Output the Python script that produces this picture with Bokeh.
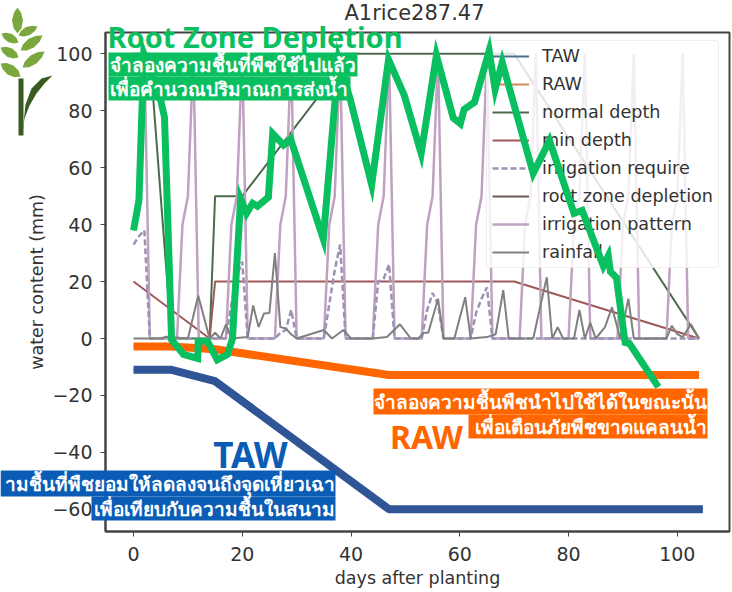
from bokeh.plotting import figure
from bokeh.embed import file_html
from bokeh.resources import INLINE
from bokeh.models import Range1d, FixedTicker, Legend, LegendItem, Label, BoxAnnotation, PolyAnnotation

title = "A1rice287.47"
x_ticks = [0, 20, 40, 60, 80, 100]
y_ticks = [-60, -40, -20, 0, 20, 40, 60, 80, 100]

taw_x = [0, 7, 15, 47, 104.7]
taw_y = [-11, -11, -15, -60, -60]
raw_x = [0, 7, 15, 47, 104]
raw_y = [-2.8, -2.8, -3.8, -12.8, -12.8]
normal_x = [0, 3, 7, 14, 15, 20, 40, 70, 104]
normal_y = [100, 100, 0, 0, 50, 50, 100, 100, 0]
min_x = [0, 14, 15, 70, 104]
min_y = [20, 0, 20, 20, 0]
pattern_x = [0, 1, 2, 3, 8, 9, 10, 11, 12, 17, 18, 19, 20, 21, 26, 27, 28, 29, 30, 35, 36, 37, 38, 39,
             44, 45, 46, 47, 48, 53, 54, 55, 56, 57, 62, 63, 64, 65, 66, 71, 72, 73, 74, 75,
             80, 81, 82, 83, 84, 89, 90, 91, 92, 93, 98, 99, 100, 101, 102, 104]
pattern_y = [40, 50, 100, 0, 0, 40, 50, 100, 0, 0, 40, 50, 100, 0, 0, 40, 50, 100, 0, 0, 40, 50, 100, 0,
             0, 40, 50, 100, 0, 0, 40, 50, 100, 0, 0, 40, 50, 100, 0, 0, 40, 50, 100, 0,
             0, 40, 50, 100, 0, 0, 40, 50, 100, 0, 0, 40, 50, 100, 0, 0]
require_x = [0, 1, 2, 3, 17, 18, 19, 20, 21, 26, 27, 28, 29, 30, 35, 36, 37, 38, 39,
             44, 45, 46, 47, 48, 53, 54, 55, 56, 57, 62, 63, 64, 65, 66, 104]
require_y = [33, 36, 38, 0, 0, 12, 22, 27, 0, 0, 2, 3, 10, 0, 0, 12, 24, 33, 0,
             0, 20, 21, 26, 0, 0, 10, 16, 12, 0, 0, 9, 14, 18, 0, 0]
rain_x = [0, 5, 6, 10, 11.9, 14, 15, 16, 17, 18, 21, 22, 23, 24, 25, 26, 27, 28, 29, 30, 35, 36.5, 38.6, 40,
          44, 46.6, 49, 51, 52.4, 53.3, 54.2, 56, 57, 59, 61, 62, 65, 66.6, 68, 69, 73.5, 76, 77, 78, 79,
          81, 82, 83, 84, 85, 86.7, 88, 89.5, 91, 92, 98, 99, 100, 101, 102.5, 104]
rain_y = [0, 0, 0.6, 0, 15, 0, 2, 0, 5, 0, 0.5, 11.6, 4, 8.8, 9, 30, 4, 3.5, 1.5, 0, 3, 0, 3, 0,
          0, 0.5, 5, 0, 0, 2, 2, 14, 0, 0, 14.5, 0, 0.5, 1.5, 17, 0, 0, 21.5, 0, 4, 0,
          0, 10, 0, 5.5, 0, 4, 11, 0, 14, 0, 0, 4.5, 1.5, 0.5, 5, 0]
depletion_x = [0, 1, 1.9, 5, 5.7, 7, 9.2, 11.8, 11.9, 13.6, 15.4, 17.3, 18.2, 19.7, 20.8, 21.9, 22.8, 24.8,
               25.6, 27.6, 28.9, 34.9, 37.7, 39.9, 43.8, 46.9, 49.8, 52.9, 55.7, 58.8, 60.1, 60.8, 62.7,
               65.4, 66.5, 67.8, 73.5, 76.5, 81, 82.5, 86.4, 87.3, 87.7, 88.8, 90.4, 91.2, 96.5]
depletion_y = [38, 48.5, 100, 83.7, 77.7, -0.4, -5.6, -7, -1, -1, -7.5, -5.6, 0, 49, 44, 47.5, 46.5, 49.6,
               72, 68, 70, 35, 98, 83.7, 54, 98, 85.4, 65, 99.5, 77.5, 75.5, 80.5, 83,
               101, 87.5, 97, 58, 69.5, 44, 45, 25.5, 29, 23.5, 21.4, -1.4, -1.8, -17]

GREEN, ORANGE, BLUE = "#0abf60", "#ff6600", "#0b5cb5"
L, R, T, B = 105, 729, 32, 531
x0, x1, y0, y1 = -5.15, 109.6, -67.8, 107.5

def X(px):
    return x0 + (px - L) * (x1 - x0) / (R - L)

def Y(py):
    return y1 - (py - T) * (y1 - y0) / (B - T)

pinned = {"position": "absolute", "left": "0px", "top": "0px"}

# base chart: axes, thin series, translucent legend
p = figure(width=732, height=592, output_backend="svg", toolbar_location=None,
           x_range=Range1d(x0, x1), y_range=Range1d(y0, y1),
           min_border_left=L, min_border_right=732 - R, min_border_top=T, min_border_bottom=592 - B,
           x_axis_label="days after planting", y_axis_label="water content (mm)")
p.styles = pinned
p.grid.visible = False
p.outline_line_color = "#444444"
p.outline_line_width = 2
for ax, ticks in ((p.xaxis[0], x_ticks), (p.yaxis[0], y_ticks)):
    ax.ticker = FixedTicker(ticks=ticks)
    ax.major_label_overrides = {t: str(t).replace("-", "\u2212") for t in ticks}
    ax.major_tick_in = 0
    ax.major_tick_out = 5
    ax.minor_tick_line_color = None
    ax.axis_line_color = "#444444"
    ax.axis_line_width = 2
    ax.major_tick_line_color = "#444444"
    ax.major_label_text_font = "DejaVu Sans"
    ax.major_label_text_font_size = "19px"
    ax.major_label_text_color = "#333333"
    ax.axis_label_text_font = "DejaVu Sans"
    ax.axis_label_text_font_size = "17.5px"
    ax.axis_label_text_font_style = "normal"
    ax.axis_label_text_color = "#333333"
p.xaxis[0].major_label_standoff = 10
p.yaxis[0].major_label_standoff = 8
p.xaxis[0].axis_label_standoff = 4
p.yaxis[0].axis_label_standoff = 2

r_taw = p.line(taw_x, taw_y, line_color="#4c6f8f", line_width=2)
r_raw = p.line(raw_x, raw_y, line_color="#d08a5b", line_width=2)
r_normal = p.line(normal_x, normal_y, line_color="#4c6b4c", line_width=2)
r_min = p.line(min_x, min_y, line_color="#a05858", line_width=2)
r_pattern = p.line(pattern_x, pattern_y, line_color="#bfa2c0", line_width=2.5)
r_req = p.line(require_x, require_y, line_color="#9b92b5", line_width=2.5, line_dash="6 3")
r_dep = p.line(depletion_x, depletion_y, line_color="#6b5a55", line_width=2)
r_rain = p.line(rain_x, rain_y, line_color="#808080", line_width=2)

legend = Legend(items=[
    LegendItem(label="TAW", renderers=[r_taw]),
    LegendItem(label="RAW", renderers=[r_raw]),
    LegendItem(label="normal depth", renderers=[r_normal]),
    LegendItem(label="min depth", renderers=[r_min]),
    LegendItem(label="irrigation require", renderers=[r_req]),
    LegendItem(label="root zone depletion", renderers=[r_dep]),
    LegendItem(label="irrigation pattern", renderers=[r_pattern]),
    LegendItem(label="rainfall", renderers=[r_rain]),
], location=(381, 263), margin=0, padding=5, spacing=8, glyph_width=37, glyph_height=20, label_height=20,
    label_standoff=13, label_text_font="DejaVu Sans", label_text_font_size="17.6px", label_text_color="#333333",
    background_fill_alpha=0.82, border_line_color="#dddddd", border_radius=4)
p.add_layout(legend)

# transparent sheet over the whole page: thick bands, green trace, captions, emblem
q = figure(width=732, height=592, output_backend="svg", toolbar_location=None,
           x_range=Range1d(X(0), X(732)), y_range=Range1d(Y(592), Y(0)),
           x_axis_type=None, y_axis_type=None, min_border=0,
           background_fill_alpha=0, border_fill_alpha=0, outline_line_color=None)
q.styles = pinned
q.grid.visible = False

q.line(taw_x, taw_y, line_color="#2f5597", line_width=8)
q.line(raw_x, raw_y, line_color=ORANGE, line_width=8)
q.line(depletion_x, depletion_y, line_color=GREEN, line_width=7, line_join="miter")

def band(left, right, top, bottom, color):
    q.add_layout(BoxAnnotation(left=X(left), right=X(right), top=Y(top), bottom=Y(bottom),
                               fill_color=color, fill_alpha=1, line_color=None))

def words(px, py, text, color="#ffffff", size="19px", align="left", style="bold", font="Noto Sans"):
    q.add_layout(Label(x=X(px), y=Y(py), text=text, text_color=color, text_font_size=size, text_align=align,
                       text_baseline="middle", text_font_style=style, text_font=font))

band(108, 357, 52, 76, GREEN)
band(108, 350, 76, 100, GREEN)
band(0, 335, 470, 496, BLUE)
band(91, 335, 496, 520, BLUE)
band(373, 707, 388, 414, ORANGE)
band(468, 707, 414, 438, ORANGE)

words(414, 12, title, "#333333", "21px", "center", "normal", "DejaVu Sans")
words(107, 36, "Root Zone Depletion", GREEN, "29px")
words(109, 64, "จำลองความชื้นที่พืชใช้ไปแล้ว")
words(109, 88, "เพื่อคำนวณปริมาณการส่งน้ำ")
words(250, 454, "TAW", BLUE, "35px", "center")
words(334, 483, "ามชื้นที่พืชยอมให้ลดลงจนถึงจุดเหี่ยวเฉา", align="right")
words(334, 508, "เพื่อเทียบกับความชื้นในสนาม", align="right")
words(426, 436, "RAW", ORANGE, "32px", "center")
words(706, 401, "จำลองความชื้นพืชนำไปใช้ได้ในขณะนั้น", align="right")
words(706, 426, "เพื่อเตือนภัยพืชขาดแคลนน้ำ", align="right")

# wheat emblem
def leaf(tip, base, w):
    dx, dy = base[0] - tip[0], base[1] - tip[1]
    n = (dx * dx + dy * dy) ** 0.5
    ox, oy = -dy / n * w / 2, dx / n * w / 2
    at = lambda t, k: (tip[0] + dx * t + ox * k, tip[1] + dy * t + oy * k)
    pts = [at(0, 0), at(0.2, 0.65), at(0.5, 1), at(0.8, 0.7), at(1, 0),
           at(0.8, -0.7), at(0.5, -1), at(0.2, -0.65)]
    return [a for a, _ in pts], [b for _, b in pts]

leaf_light = "#7aa83f"
leaf_dark = "#3b5a1f"
leaves = [((17, 7), (17, 33), 11), ((37, 26), (18, 35), 9), ((42, 35), (20, 50), 10), ((44, 51), (22, 67), 10),
          ((1, 33), (18, 42), 9), ((0, 47), (18, 57), 10), ((0, 63), (20, 76), 11)]
emblem = [(leaf_light, *leaf(*spec)) for spec in leaves]
emblem += [
    (leaf_dark, [18, 23, 23, 18], [78, 78, 135, 135]),
    (leaf_dark, [22, 25, 31, 41, 52, 44, 36, 29, 24, 22], [132, 104, 88, 78, 75, 83, 93, 105, 118, 132]),
]
for color, xs, ys in emblem:
    q.add_layout(PolyAnnotation(xs=[X(v) for v in xs], ys=[Y(v) for v in ys], fill_color=color, fill_alpha=1,
                                line_color=None))

open("out.html", "w").write(file_html([p, q], INLINE))
